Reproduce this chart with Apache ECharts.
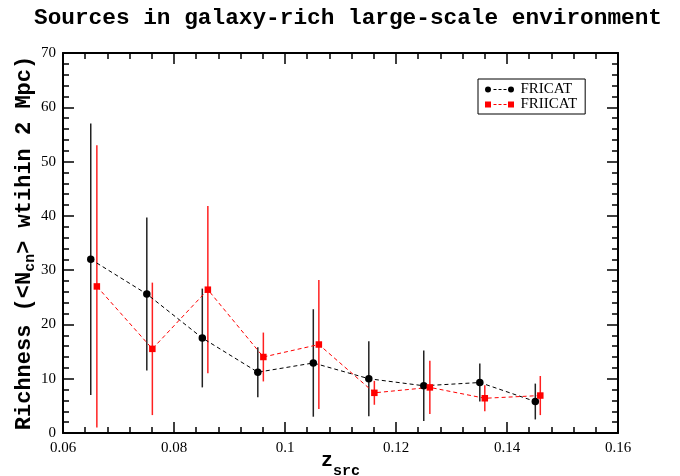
<!DOCTYPE html>
<html>
<head>
	<meta http-equiv="Content-Type" content="text/html;charset=utf-8">
	<title>Sources in galaxy-rich large-scale environment</title>
	<style>
		html, body { margin: 0; padding: 0; background: #fff; }
		#chart { width: 680px; height: 476px; }
	</style>
</head>
<body>
<div id="chart"></div>
<script src="https://cdn.jsdelivr.net/npm/echarts@6/dist/echarts.min.js"></script>
<script>
	// FRICAT (black circles)
	var friZ = [0.0650, 0.0751, 0.0851, 0.0951, 0.1051, 0.1151, 0.1250, 0.1351, 0.1451];
	var friN = [32.0, 25.6, 17.5, 11.2, 12.9, 10.0, 8.7, 9.3, 5.8];
	var friErr = [25.0, 14.1, 9.1, 4.6, 9.9, 6.9, 6.5, 3.5, 3.3];

	// FRIICAT (red squares)
	var friiZ = [0.0661, 0.0761, 0.0861, 0.0961, 0.1061, 0.1161, 0.1261, 0.1360, 0.1460];
	var friiN = [27.0, 15.5, 26.4, 14.0, 16.3, 7.4, 8.4, 6.4, 6.9];
	var friiErr = [26.0, 12.2, 15.4, 4.5, 11.9, 2.2, 4.9, 2.4, 3.6];

	var xTicks = ['0.06', '0.08', '0.1', '0.12', '0.14', '0.16'];

	function pairs(xs, ys){
		var out = [];
		for (var i = 0; i < xs.length; i++) out.push([xs[i], ys[i]]);
		return out;
	}
	function errRows(xs, ys, es){
		var out = [];
		for (var i = 0; i < xs.length; i++) out.push([xs[i], ys[i] - es[i], ys[i] + es[i]]);
		return out;
	}
	function errorBars(color){
		return function(params, api){
			var lo = api.coord([api.value(0), api.value(1)]);
			var hi = api.coord([api.value(0), api.value(2)]);
			return {
				type: 'line',
				shape: { x1: lo[0], y1: lo[1], x2: hi[0], y2: hi[1] },
				style: { stroke: color, lineWidth: 1.5 }
			};
		};
	}

	// legend icons: marker - dashes - marker
	var dashes = 'M9,3 h3 v1 h-3 Z M14,3 h3 v1 h-3 Z M19,3 h3 v1 h-3 Z ';
	var dotIcon = 'path://M0.5,3.5 A3,3 0 1,0 6.5,3.5 A3,3 0 1,0 0.5,3.5 Z ' + dashes +
		'M23.5,3.5 A3,3 0 1,0 29.5,3.5 A3,3 0 1,0 23.5,3.5 Z';
	var sqIcon = 'path://M0.5,0.5 h6 v6 h-6 Z ' + dashes + 'M23.5,0.5 h6 v6 h-6 Z';

	var tickFont = { fontFamily: 'Liberation Serif', fontSize: 15, color: '#000' };
	function xAxisCfg(pos, showLabels){
		return {
			type: 'value', position: pos, min: 0.06, max: 0.16, interval: 0.02,
			nameMoveOverlap: false,
			axisLine: { show: true, onZero: false, lineStyle: { color: '#000', width: 2 } },
			axisTick: { inside: true, length: 11, lineStyle: { color: '#000', width: 1.5 } },
			minorTick: { show: true, splitNumber: 5, length: 6, lineStyle: { color: '#000', width: 1.5 } },
			splitLine: { show: false },
			axisLabel: {
				show: showLabels, margin: 8,
				formatter: function(v){ return xTicks[Math.round((v - 0.06) / 0.02)]; },
				fontFamily: tickFont.fontFamily, fontSize: tickFont.fontSize, color: tickFont.color
			}
		};
	}
	function yAxisCfg(pos, showLabels){
		return {
			type: 'value', position: pos, min: 0, max: 70, interval: 10,
			nameMoveOverlap: false,
			axisLine: { show: true, onZero: false, lineStyle: { color: '#000', width: 2 } },
			axisTick: { inside: true, length: 11, lineStyle: { color: '#000', width: 1.5 } },
			minorTick: { show: true, splitNumber: 5, length: 6, lineStyle: { color: '#000', width: 1.5 } },
			splitLine: { show: false },
			axisLabel: {
				show: showLabels, margin: 7,
				fontFamily: tickFont.fontFamily, fontSize: tickFont.fontSize, color: tickFont.color
			}
		};
	}

	var xMain = xAxisCfg('bottom', true);
	xMain.name = '{z|z}{s|src}';
	xMain.nameLocation = 'middle';
	xMain.nameGap = 9;
	xMain.nameTextStyle = {
		rich: {
			z: { fontFamily: 'Liberation Mono', fontWeight: 'bold', fontSize: 20, color: '#000' },
			s: { fontFamily: 'Liberation Mono', fontWeight: 'bold', fontSize: 15, color: '#000', padding: [22, 0, 0, 0] }
		}
	};
	var yMain = yAxisCfg('left', true);
	yMain.name = '{a|Richness (<N}{s|cn}{a|> wtihin 2 Mpc)}';
	yMain.nameLocation = 'middle';
	yMain.nameGap = 25;
	yMain.nameTextStyle = {
		rich: {
			a: { fontFamily: 'Liberation Mono', fontWeight: 'bold', fontSize: 22, color: '#000' },
			s: { fontFamily: 'Liberation Mono', fontWeight: 'bold', fontSize: 15, color: '#000', padding: [12, 0, 0, 0] }
		}
	};

	var option = {
		backgroundColor: '#fff',
		animation: false,
		title: {
			text: 'Sources in galaxy-rich large-scale environment',
			left: 29, top: 2,
			textStyle: { fontFamily: 'Liberation Mono', fontWeight: 'bold', fontSize: 22.75, color: '#000' }
		},
		legend: {
			orient: 'vertical', left: 478, top: 79,
			data: [{ name: 'FRICAT', icon: dotIcon }, { name: 'FRIICAT', icon: sqIcon }],
			itemWidth: 30, itemHeight: 6, itemGap: 0,
			padding: [3, 8, 2, 7],
			borderColor: '#000', borderWidth: 1,
			textStyle: { fontFamily: 'Liberation Serif', fontSize: 15, lineHeight: 13, color: '#000', padding: [0, 0, 0, 1] }
		},
		grid: { left: 63, right: 62, top: 53, bottom: 43, outerBoundsMode: 'none' },
		xAxis: [xMain, xAxisCfg('top', false)],
		yAxis: [yMain, yAxisCfg('right', false)],
		series: [
			{
				type: 'custom', name: 'friErr', renderItem: errorBars('#222'),
				encode: { x: 0, y: [1, 2] }, data: errRows(friZ, friN, friErr), z: 1, silent: true
			},
			{
				type: 'custom', name: 'friiErr', renderItem: errorBars('#ff2020'),
				encode: { x: 0, y: [1, 2] }, data: errRows(friiZ, friiN, friiErr), z: 1, silent: true
			},
			{
				type: 'line', name: 'FRICAT', data: pairs(friZ, friN), z: 3,
				symbol: 'circle', symbolSize: 7.5,
				itemStyle: { color: '#000' },
				lineStyle: { color: '#000', width: 1, type: [4, 3] }
			},
			{
				type: 'line', name: 'FRIICAT', data: pairs(friiZ, friiN), z: 3,
				symbol: 'rect', symbolSize: 6.5,
				itemStyle: { color: '#ff0000' },
				lineStyle: { color: '#ff0000', width: 1, type: [4, 3] }
			}
		]
	};

	var myChart = echarts.init(document.getElementById('chart'));
	myChart.setOption(option);
</script>
</body>
</html>
